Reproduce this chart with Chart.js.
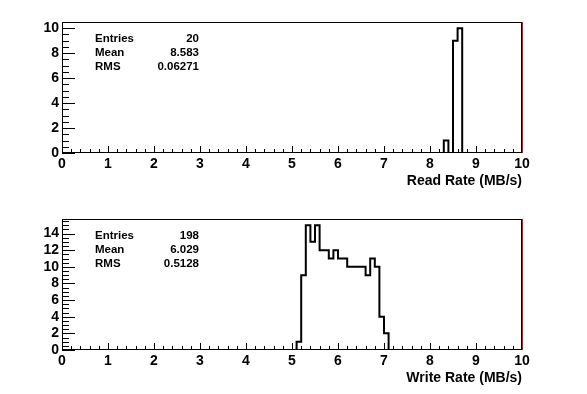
<!DOCTYPE html>
<html>
<head>
<meta charset="utf-8">
<script src="https://cdn.jsdelivr.net/npm/chart.js@4.4.0/dist/chart.umd.min.js"></script>
<style>
body { margin: 0; background: #fff; }
canvas { display: block; }
</style>
</head>
<body>
<canvas id="readChart" width="587" height="197"></canvas>
<canvas id="writeChart" width="587" height="197"></canvas>
<script>
"use strict";

const xTicks = [0, 1, 2, 3, 4, 5, 6, 7, 8, 9, 10];
const binWidth = 0.1;
const statLabels = ["Entries", "Mean", "RMS"];

// read rate histogram (bins of 0.1 MB/s, everything else is empty)
const readBinStarts = [8.3, 8.4, 8.5, 8.6];
const readCounts = [1, 0, 9, 10];
const readYTicks = [0, 2, 4, 6, 8, 10];
const readStats = ["20", "8.583", "0.06271"];

// write rate histogram
const writeBinStarts = [5.1, 5.2, 5.3, 5.4, 5.5, 5.6, 5.7, 5.8, 5.9, 6.0,
	6.1, 6.2, 6.3, 6.4, 6.5, 6.6, 6.7, 6.8, 6.9, 7.0];
const writeCounts = [1, 9, 15, 13, 15, 12, 12, 11, 12, 11,
	11, 10, 10, 10, 10, 9, 11, 10, 4, 2];
const writeYTicks = [0, 2, 4, 6, 8, 10, 12, 14];
const writeStats = ["198", "6.029", "0.5128"];

const FONT = "'Liberation Sans', Arial, Helvetica, sans-serif";

function stepPoints(starts, counts) {
	const pts = [{ x: 0, y: 0 }];
	starts.forEach(function (s, i) {
		pts.push({ x: s, y: counts[i] });
	});
	const end = +(starts[starts.length - 1] + binWidth).toFixed(2);
	pts.push({ x: end, y: 0 });
	pts.push({ x: 10, y: 0 });
	return pts;
}

// frame, inward ticks and the stats box, ROOT style
const rootFrame = {
	id: "rootFrame",
	afterDatasetsDraw(chart, args, opts) {
		const { ctx, chartArea: a, scales: { x, y } } = chart;
		ctx.save();
		ctx.strokeStyle = "#000";
		ctx.lineWidth = 1;
		ctx.beginPath();
		for (let k = 0; k <= 50; k++) {
			const px = Math.round(x.getPixelForValue(k * 0.2)) + 0.5;
			const len = k % 5 === 0 ? 7 : 4;
			ctx.moveTo(px, a.bottom);
			ctx.lineTo(px, a.bottom - len);
		}
		for (let k = 0; k * 0.5 <= y.max; k++) {
			const py = Math.round(y.getPixelForValue(k * 0.5)) + 0.5;
			const len = k % 4 === 0 ? 13 : 7;
			ctx.moveTo(a.left, py);
			ctx.lineTo(a.left + len, py);
		}
		ctx.stroke();

		ctx.strokeRect(a.left + 0.5, a.top + 0.5, a.width - 1, a.height - 1);
		ctx.strokeStyle = "#ff0000";
		ctx.beginPath();
		ctx.moveTo(a.right + 0.5, a.top);
		ctx.lineTo(a.right + 0.5, a.bottom);
		ctx.stroke();

		ctx.fillStyle = "#000";
		ctx.font = "bold 11.5px " + FONT;
		ctx.textBaseline = "middle";
		statLabels.forEach(function (label, i) {
			const ty = 38.5 + i * 14;
			ctx.textAlign = "left";
			ctx.fillText(label, 95, ty);
			ctx.textAlign = "right";
			ctx.fillText(opts.stats[i], 199, ty);
		});
		ctx.restore();
	},
};

function makeChart(id, starts, counts, yTicks, yMax, title, stats) {
	const end = +(starts[starts.length - 1] + binWidth).toFixed(2);
	new Chart(document.getElementById(id), {
		type: "line",
		data: {
			datasets: [
				{
					data: stepPoints(starts, counts),
					borderColor: "#000",
					borderWidth: 2,
					pointRadius: 0,
					stepped: "before",
					fill: false,
				},
				{
					data: [{ x: starts[0], y: 0 }, { x: end, y: 0 }],
					borderColor: "#ff0000",
					borderWidth: 2,
					pointRadius: 0,
					fill: false,
				},
			],
		},
		options: {
			responsive: false,
			animation: false,
			devicePixelRatio: 1,
			layout: { padding: { left: 0, right: 65, top: 22, bottom: 0 } },
			plugins: {
				legend: { display: false },
				tooltip: { enabled: false },
				rootFrame: { stats: stats },
			},
			scales: {
				x: {
					type: "linear",
					min: 0,
					max: 10,
					afterBuildTicks(s) {
						s.ticks = xTicks.map(function (v) { return { value: v }; });
					},
					afterFit(s) { s.height = 44; },
					grid: { display: false, drawTicks: false, tickLength: 0 },
					border: { display: false },
					ticks: {
						color: "#000",
						padding: 3,
						maxRotation: 0,
						autoSkip: false,
						font: { family: FONT, size: 14, weight: "bold" },
					},
					title: {
						display: true,
						text: title,
						align: "end",
						color: "#000",
						padding: { top: 0, bottom: 7 },
						font: { family: FONT, size: 14, weight: "bold", lineHeight: 1.2 },
					},
				},
				y: {
					type: "linear",
					min: 0,
					max: yMax,
					afterBuildTicks(s) {
						s.ticks = yTicks.map(function (v) { return { value: v }; });
					},
					afterFit(s) { s.width = 62; },
					grid: { display: false, drawTicks: false, tickLength: 0 },
					border: { display: false },
					ticks: {
						color: "#000",
						padding: 3,
						autoSkip: false,
						font: { family: FONT, size: 14, weight: "bold" },
					},
				},
			},
		},
		plugins: [rootFrame],
	});
}

makeChart("readChart", readBinStarts, readCounts, readYTicks, 10.5, "Read Rate (MB/s)", readStats);
makeChart("writeChart", writeBinStarts, writeCounts, writeYTicks, 15.75, "Write Rate (MB/s)", writeStats);
</script>
</body>
</html>
